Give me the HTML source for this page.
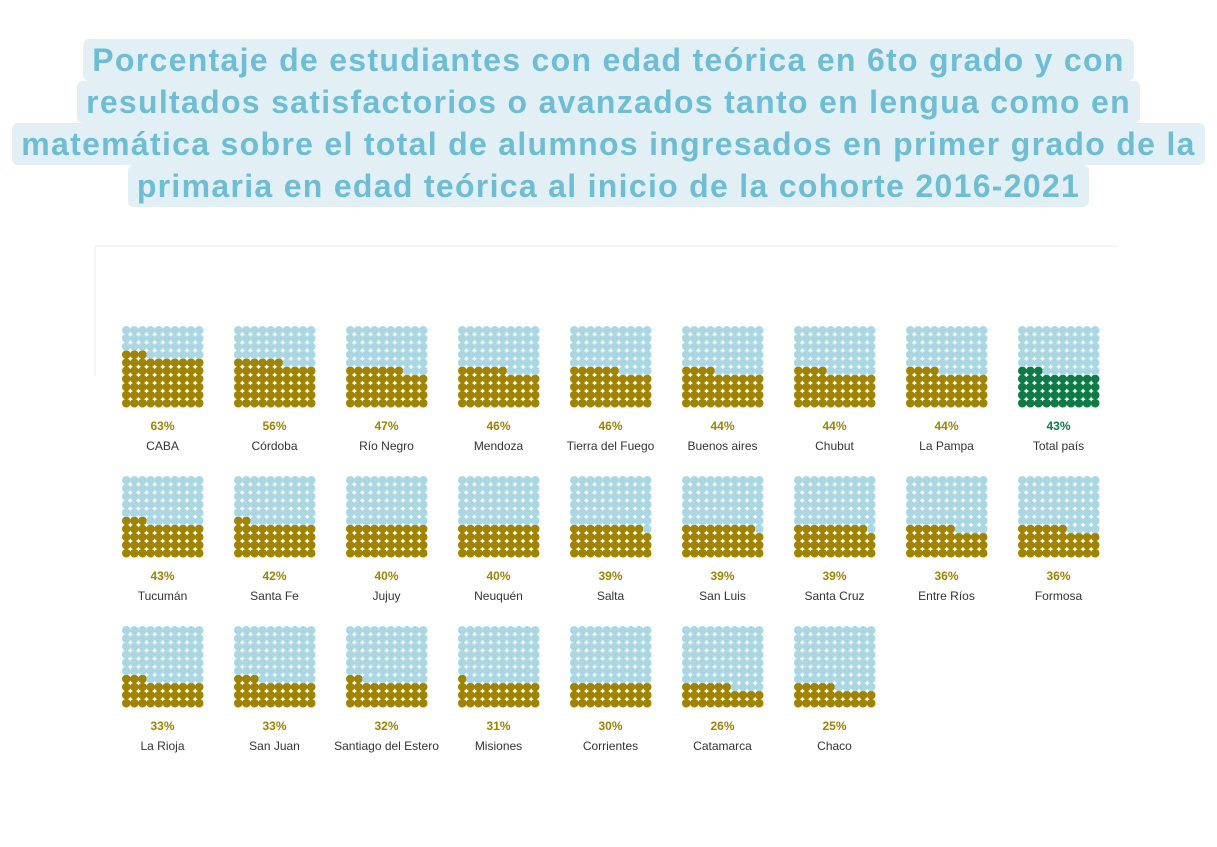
<!DOCTYPE html>
<html><head><meta charset="utf-8"><style>
body{margin:0;width:1217px;height:847px;background:#fff;position:relative;overflow:hidden;font-family:"Liberation Sans",sans-serif}
.t{position:absolute;left:0;width:1217px;text-align:center}
.t span{display:inline-block;background:#e2f0f5;color:#6dbdd4;font-weight:bold;font-size:32px;line-height:42px;padding:0 9px;border-radius:6px;letter-spacing:1.3px}
</style></head><body>
<div class="t" style="top:39px"><span>Porcentaje de estudiantes con edad teórica en 6to grado y con</span></div>
<div class="t" style="top:81px"><span>resultados satisfactorios o avanzados tanto en lengua como en</span></div>
<div class="t" style="top:123px"><span>matemática sobre el total de alumnos ingresados en primer grado de la</span></div>
<div class="t" style="top:165px"><span>primaria en edad teórica al inicio de la cohorte 2016-2021</span></div>
<svg id="c" width="1217" height="847" style="position:absolute;left:0;top:0">
<line x1="95" y1="246" x2="1118" y2="246" stroke="#eee"/>
<line x1="95" y1="246" x2="95" y2="376" stroke="#eee"/>
</svg>
<script>
const names=["CABA","Córdoba","Río Negro","Mendoza","Tierra del Fuego","Buenos aires","Chubut","La Pampa","Total país","Tucumán","Santa Fe","Jujuy","Neuquén","Salta","San Luis","Santa Cruz","Entre Ríos","Formosa","La Rioja","San Juan","Santiago del Estero","Misiones","Corrientes","Catamarca","Chaco"];
const values=[63,56,47,46,46,44,44,44,43,43,42,40,40,39,39,39,36,36,33,33,32,31,30,26,25];
const highlight="Total país";
const svg=document.getElementById('c');const NS="http://www.w3.org/2000/svg";
const perRow=9,x0=122,y0=326,dx=112,dy=150,step=8.1,r=4.3;
names.forEach((n,i)=>{
 const gx=x0+(i%perRow)*dx, gy=y0+Math.floor(i/perRow)*dy;
 const fill=n===highlight?"#0e7a45":"#a08300";
 const g=document.createElementNS(NS,'g');
 
 
 for(let k=0;k<100;k++){
  const row=9-Math.floor(k/10), col=k%10;
  const c=document.createElementNS(NS,'circle');
  c.setAttribute('cx',gx+r+col*step);c.setAttribute('cy',gy+r+row*step);c.setAttribute('r',r);
  c.setAttribute('fill',k<values[i]?fill:"#a9d7e3");
  g.appendChild(c);
 }
 const cx=gx+40.5;
 const p=document.createElementNS(NS,'text');
 
 
 p.setAttribute('x',cx);p.setAttribute('y',gy+104);p.setAttribute('text-anchor','middle');
 p.setAttribute('font-size','12');p.setAttribute('font-weight','bold');p.setAttribute('fill',fill);
 p.textContent=values[i]+'%';g.appendChild(p);
 const l=document.createElementNS(NS,'text');
 
 
 l.setAttribute('x',cx);l.setAttribute('y',gy+124);l.setAttribute('text-anchor','middle');
 l.setAttribute('font-size','12');l.setAttribute('fill','#333');
 l.textContent=n;g.appendChild(l);
 svg.appendChild(g);
});
</script>
</body></html>
